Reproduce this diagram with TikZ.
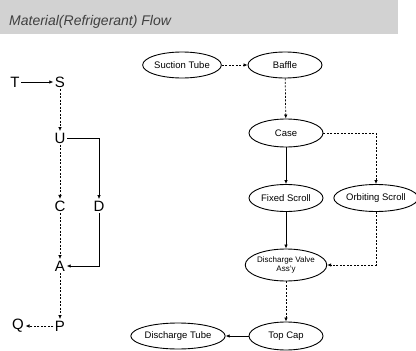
\documentclass[tikz,border=0pt]{standalone}
\usepackage{fontspec}
\setmainfont{Liberation Sans}
\usetikzlibrary{shapes.geometric,arrows.meta}

\begin{document}
\begin{tikzpicture}[x=1pt,y=-1pt,
  blob/.style={ellipse,draw,line width=0.9pt,minimum width=74pt,minimum height=26pt,
    inner sep=0pt,align=center,font=\fontsize{9.5}{9.5}\selectfont},
  letter/.style={inner sep=1.5pt,font=\fontsize{15}{15}\selectfont},
  flow/.style={-{Latex[length=4pt,width=3.5pt]},line width=0.7pt},
  dflow/.style={flow,dash pattern=on 2pt off 1.5pt}]
\useasboundingbox (0,0) rectangle (416,351);

% title banner
\fill[gray!35] (0,0) rectangle (398,34);
\node[anchor=base west,inner sep=0pt,text=gray!50!black,
  font=\itshape\fontsize{14}{14}\selectfont] (title) at (9,25) {Material(Refrigerant) Flow};

% symbolic flow
\node[letter] (T) at (15,82) {T};
\node[letter] (S) at (60,82) {S};
\node[letter] (U) at (60,138) {U};
\node[letter] (C) at (60,206) {C};
\node[letter] (D) at (99,206) {D};
\node[letter] (A) at (60,266) {A};
\node[letter] (P) at (60,326) {P};
\node[letter] (Q) at (18,326) {Q};

\draw[flow]  (T) -- (S);
\draw[dflow] (S) -- (U);
\draw[dflow] (U) -- (C);
\draw[flow]  (U) -| (D);
\draw[dflow] (C) -- (A);
\draw[flow]  (D) |- (A);
\draw[dflow] (A) -- (P);
\draw[dflow] (P) -- (Q);

% component flow
\node[blob] (st) at (182,65)  {Suction Tube};
\node[blob] (ba) at (285,65)  {Baffle};
\node[blob,minimum height=28pt] (ca) at (286,133) {Case};
\node[blob,minimum height=27pt] (fs) at (286,198) {Fixed Scroll};
\node[blob,minimum width=72pt,minimum height=27pt] (os) at (376,198) {Orbiting Scroll};
\node[blob,minimum height=32pt,font=\fontsize{8}{8.5}\selectfont] (dv) at (286,265) {Discharge Valve\\Ass'y};
\node[blob,minimum height=28pt] (tc) at (286,336) {Top Cap};
\node[blob] (dt) at (178,336) {Discharge Tube};

\draw[dflow] (st) -- (ba);
\draw[dflow] (ba) -- (ca);
\draw[flow]  (ca) -- (fs);
\draw[dflow] (ca) -| (os);
\draw[flow]  (fs) -- (dv);
\draw[dflow] (os) |- (dv);
\draw[dflow] (dv) -- (tc);
\draw[flow]  (tc) -- (dt);
\end{tikzpicture}
\end{document}
